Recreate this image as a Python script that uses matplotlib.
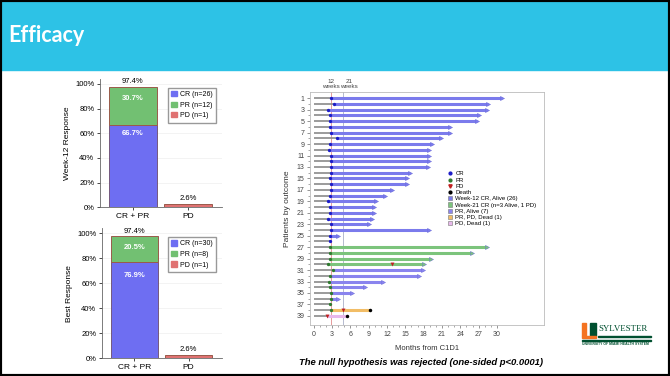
import numpy as np
import matplotlib.pyplot as plt
from matplotlib.patches import Rectangle, Patch
from matplotlib.lines import Line2D

# response rates (%)
cats = ['CR + PR', 'PD']
wk12_cr, wk12_pr, wk12_pd = 66.7, 30.7, 2.6
best_cr, best_pr, best_pd = 76.9, 20.5, 2.6
wk12_n = {'CR': 26, 'PR': 12, 'PD': 1}
best_n = {'CR': 30, 'PR': 8, 'PD': 1}

# swimmer data, patients 1..39 (months from C1D1)
resp_t = [2.8, 3.3, 2.4, 2.7, 2.6, 2.7, 2.8, 3.8, 2.6, 2.5,
          2.8, 2.9, 2.8, 2.8, 2.7, 2.8, 2.9, 2.6, 2.3, 2.7,
          2.7, 2.4, 2.9, 2.8, 2.7, 2.7, 2.6, 2.6, 2.6, 2.4,
          3.1, 2.6, 2.5, 2.6, 2.8, 2.9, 2.6, 2.9, 2.1]
end_t = [30.9, 28.6, 28.3, 27.1, 26.7, 22.3, 22.3, 20.9, 19.3, 18.9,
         18.9, 18.9, 18.7, 15.7, 15.2, 15.2, 12.9, 11.7, 10.2, 9.9,
         9.8, 9.5, 9.0, 18.8, 4.0, 2.7, 28.4, 25.9, 19.2, 18.0,
         17.9, 17.3, 11.3, 8.4, 6.2, 4.0, 2.6, 9.2, 5.4]
# 0 = week-12 CR alive, 1 = week-21 CR, 2 = PR alive, 3 = PR/PD dead, 4 = PD dead
group = [0]*26 + [1]*4 + [2]*7 + [3] + [4]
pd_t = {30: 12.8, 38: 4.85, 39: 2.1}
death_t = {38: 9.2, 39: 5.4}

grp_col = ['#7b7bec', '#7cc47c', '#8a84ee', '#f2bd66', '#e8b8ec']
grp_lab = ['Week-12 CR, Alive (26)', 'Week-21 CR (n=3 Alive, 1 PD)',
           'PR, Alive (7)', 'PR, PD, Dead (1)', 'PD, Dead (1)']
c_cr, c_pr, c_pd = '#6e6ef2', '#72c072', '#e07272'

fig = plt.figure(figsize=(6.7, 3.76), dpi=100)
plt.rcParams['font.family'] = ['Liberation Sans', 'DejaVu Sans']

# header band + frame
fig.patches.append(Rectangle((0, 0.814), 1, 0.186, transform=fig.transFigure,
                             color='#2dc2e6', zorder=0))
fig.patches.append(Rectangle((0, 0), 1, 1, transform=fig.transFigure,
                             fill=False, ec='black', lw=3, zorder=5))
fig.text(0.013, 0.905, 'Efficacy', color='white', fontsize=15.5, fontweight='bold',
         family='Lato', va='center', ha='left')


def resp_bars(ax, cr, pr, pd, n, ylab, cr_off):
    x = np.arange(2)
    ax.bar(x[0], cr, width=0.87, color=c_cr, edgecolor='#6a4a6a', lw=0.6)
    ax.bar(x[0], pr, bottom=cr, width=0.87, color=c_pr, edgecolor='#9a5a4a', lw=0.7)
    ax.bar(x[1], pd, width=0.87, color=c_pd, edgecolor='#9a5a4a', lw=0.7)
    ax.text(x[0], cr + pr + 1.5, f'{cr + pr:.1f}%', ha='center', va='bottom', fontsize=5.5)
    ax.text(x[0], cr + pr - 9, f'{pr:.1f}%', ha='center', va='center',
            fontsize=5.5, color='white', fontweight='bold')
    ax.text(x[0], cr - cr_off, f'{cr:.1f}%', ha='center', va='center',
            fontsize=5.5, color='white', fontweight='bold')
    ax.text(x[1], pd + 2, f'{pd:.1f}%', ha='center', va='bottom', fontsize=5.5)
    ax.set_xlim(-0.6, 1.61)
    ax.set_ylim(0, 104)
    ax.set_yticks(range(0, 101, 20))
    ax.set_yticklabels([f'{v}%' for v in range(0, 101, 20)], fontsize=5.5)
    ax.set_xticks(x)
    ax.set_xticklabels(cats, fontsize=6)
    ax.tick_params(length=2, width=0.5, pad=2)
    ax.yaxis.grid(True, color='#eeeeee', lw=0.5)
    ax.set_axisbelow(True)
    for s in ['top', 'right']:
        ax.spines[s].set_visible(False)
    for s in ['left', 'bottom']:
        ax.spines[s].set_color('#666666')
        ax.spines[s].set_linewidth(0.6)
    ax.set_ylabel(ylab, fontsize=6, labelpad=3)
    hs = [Patch(color=c_cr), Patch(color=c_pr), Patch(color=c_pd)]
    ls = [f"CR (n={n['CR']})", f"PR (n={n['PR']})", f"PD (n={n['PD']})"]
    ax.legend(hs, ls, loc='upper right', bbox_to_anchor=(0.985, 0.96), fontsize=5,
              handlelength=0.8, handleheight=0.8, handletextpad=0.5, borderpad=0.5,
              labelspacing=0.5, fancybox=False, edgecolor='#999999', framealpha=1)


ax1 = fig.add_axes([0.149, 0.449, 0.182, 0.341])
resp_bars(ax1, wk12_cr, wk12_pr, wk12_pd, wk12_n, 'Week-12 Response', 7)
ax2 = fig.add_axes([0.152, 0.047, 0.179, 0.346])
resp_bars(ax2, best_cr, best_pr, best_pd, best_n, 'Best Response', 11)

# swimmer plot
ax = fig.add_axes([0.4627, 0.1356, 0.3492, 0.6205])
pts = np.arange(1, 40)
wk12, wk21 = 12 * 7 / 30.44, 21 * 7 / 30.44
ax.axvline(wk12, color='#e08a8a', lw=0.6, zorder=1)
ax.axvline(wk21, color='#aab0c8', lw=0.6, zorder=1)
for p, r, e, g in zip(pts, resp_t, end_t, group):
    start = pd_t[39] if p == 39 else r
    ax.plot([0, start], [p, p], color='#8a8a8a', lw=1.2, solid_capstyle='butt', zorder=2)
    if e > start + 0.2:
        ax.plot([start, e], [p, p], color=grp_col[g], lw=2.2, solid_capstyle='butt', zorder=2)
        if p not in death_t:
            ax.plot(e, p, marker='>', ms=3, color=grp_col[g], mec='#6a6ad8', mew=0.3, zorder=3)
    if p != 39:
        ax.plot(r, p, 'o', ms=2.4, color='#1c1cc8' if g == 0 else '#2f7a2f', mew=0, zorder=4)
for p, t in pd_t.items():
    ax.plot(t, p, 'v', ms=2.8, color='#c02020', mew=0, zorder=4)
for p, t in death_t.items():
    ax.plot(t, p, 'o', ms=2.5, color='black', mew=0, zorder=4)

ax.set_xlim(-0.6, 37.7)
ax.set_ylim(40.6, -0.15)
ax.set_xticks(range(0, 31, 3))
ax.set_xticks(range(0, 31), minor=True)
ax.set_yticks(range(1, 40, 2))
ax.set_yticks(pts, minor=True)
ax.tick_params(labelsize=5, length=2, width=0.4, colors='#444444', pad=2)
ax.tick_params(which='minor', length=1.2, width=0.4, colors='#666666')
for s in ax.spines.values():
    s.set_color('#bbbbbb')
    s.set_linewidth(0.6)
ax.set_xlabel('Months from C1D1', fontsize=5.5, color='#333333', labelpad=5)
ax.set_ylabel('Patients by outcome', fontsize=6, color='#333333', labelpad=4)
ax.text(wk12, 1.012, '12\nweeks', transform=ax.get_xaxis_transform(), ha='center',
        va='bottom', fontsize=4.5, color='#444444', linespacing=1.1)
ax.text(wk21 + 0.9, 1.012, '21\nweeks', transform=ax.get_xaxis_transform(), ha='center',
        va='bottom', fontsize=4.5, color='#444444', linespacing=1.1)

hs = [Line2D([], [], ls='', marker='o', ms=2, color='#1c1cc8'),
      Line2D([], [], ls='', marker='o', ms=2, color='#2f7a2f'),
      Line2D([], [], ls='', marker='v', ms=2.4, color='#c02020'),
      Line2D([], [], ls='', marker='o', ms=2, color='black')]
hs += [Patch(fc=c, ec='#777777', lw=0.4) for c in grp_col]
ax.legend(hs, ['CR', 'PR', 'PD', 'Death'] + grp_lab, loc='upper left',
          bbox_to_anchor=(0.575, 0.672), fontsize=4.3, frameon=False,
          handlelength=0.7, handleheight=0.7, handletextpad=0.6, labelspacing=0.18,
          borderpad=0)

fig.text(0.628, 0.037, 'The null hypothesis was rejected (one-sided p<0.0001)',
         ha='center', va='center', fontsize=6.8, fontweight='bold', style='italic')

# logo block
fig.patches.append(Rectangle((0.869, 0.106), 0.006, 0.034, transform=fig.transFigure, color='#f47321'))
fig.patches.append(Rectangle((0.880, 0.106), 0.010, 0.034, transform=fig.transFigure, color='#005030'))
fig.patches.append(Rectangle((0.869, 0.100), 0.021, 0.007, transform=fig.transFigure, color='#f47321'))
fig.text(0.893, 0.124, 'SYLVESTER', family='Liberation Serif', fontsize=6.4,
         color='#005030', va='center', ha='left')
fig.patches.append(Rectangle((0.893, 0.104), 0.079, 0.002, transform=fig.transFigure, color='#005030'))
fig.patches.append(Rectangle((0.869, 0.094), 0.103, 0.002, transform=fig.transFigure, color='#005030'))
fig.text(0.869, 0.084, 'UNIVERSITY OF MIAMI HEALTH SYSTEM', fontsize=2.4,
         color='#005030', va='center', ha='left', fontweight='bold')

fig.savefig('out.png', dpi=100)
